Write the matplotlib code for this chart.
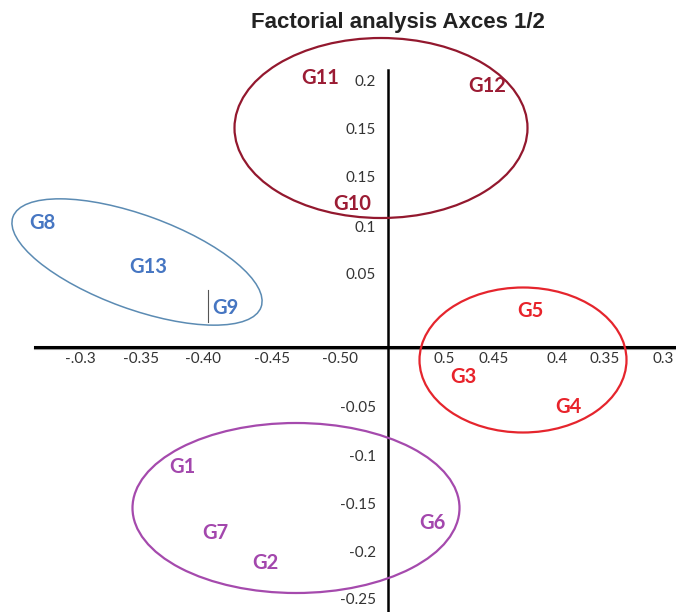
import matplotlib
matplotlib.use("Agg")
import matplotlib.pyplot as plt
from matplotlib.patches import Ellipse

# the chart has no true scale, so everything lives in a plane whose origin is
# the crossing of the two axes (1 unit ~ 1 px of the original picture)
x_tick_pos = [-308, -247, -185, -116, -48, 56, 106, 169, 217, 275]
x_tick_labels = ["-.0.3", "-0.35", "-0.40", "-0.45", "-0.50",
                 "0.5", "0.45", "0.4", "0.35", "0.3"]
y_tick_pos = [265, 217, 169, 119, 72, -61, -110, -158, -206, -253]
y_tick_labels = ["0.2", "0.15", "0.15", "0.1", "0.05",
                 "-0.05", "-0.1", "-0.15", "-0.2", "-0.25"]

groups = ["G1", "G2", "G3", "G4", "G5", "G6", "G7",
          "G8", "G9", "G10", "G11", "G12", "G13"]
group_x = [-206, -123, 75, 180, 142, 44, -173, -346, -163, -36, -68, 99, -240]
group_y = [-120, -216, -30, -60, 36, -176, -186, 124, 39, 143, 269, 261, 80]
cluster = ["purple", "purple", "red", "red", "red", "purple", "purple",
           "blue", "blue", "maroon", "maroon", "maroon", "blue"]

# cluster outlines: centre x, centre y, width, height, angle
clusters = ["maroon", "blue", "red", "purple"]
ell_cx = [-7, -251, 135, -92]
ell_cy = [219, 85, -13, -161]
ell_w = [293, 264, 207, 327]
ell_h = [180, 94, 145, 170]
ell_ang = [0, -20, 0, 0]

label_colors = {"purple": "#a347ad", "red": "#e8232b",
                "blue": "#4676c2", "maroon": "#9b1c34"}
ring_colors = {"purple": "#a54aad", "red": "#e5252d",
               "blue": "#5b8bb3", "maroon": "#93182e"}
ring_widths = {"purple": 1.6, "red": 1.6, "blue": 1.1, "maroon": 1.6}

fig = plt.figure(figsize=(6.76, 6.12), dpi=100)
ax = fig.add_axes([0, 0, 1, 1])
ax.set_xlim(-388, 288)
ax.set_ylim(-265, 347)
ax.axis("off")

# axes lines (horizontal one has a grey shadow like the original)
ax.plot([-353, 288], [-1.5, -1.5], color="#9a9a9a", lw=1.5, zorder=1)
ax.plot([-353, 288], [0, 0], color="black", lw=2.2, zorder=2)
ax.plot([0, 0], [277, -265], color="black", lw=1.8, zorder=2)

for xp, lab in zip(x_tick_pos, x_tick_labels):
    ax.text(xp, -12, lab, ha="center", va="center", fontsize=11,
            family="Lato", color="#333333")
for yp, lab in zip(y_tick_pos, y_tick_labels):
    ax.text(-12, yp, lab, ha="right", va="center", fontsize=11,
            family="Lato", color="#333333")

for c, cx, cy, w, h, a in zip(clusters, ell_cx, ell_cy, ell_w, ell_h, ell_ang):
    ax.add_patch(Ellipse((cx, cy), w, h, angle=a, fill=False,
                         edgecolor=ring_colors[c], lw=ring_widths[c], zorder=3))

for g, gx, gy, c in zip(groups, group_x, group_y, cluster):
    ax.text(gx, gy, g, ha="center", va="center", fontsize=14.5,
            family="Lato", fontweight="bold", color=label_colors[c], zorder=4)

# stray text cursor next to G9
ax.plot([-180, -180], [57, 25], color="#555555", lw=0.8)

fig.text(0.589, 0.963, "Factorial analysis Axces 1/2", ha="center", va="center",
         fontsize=16, fontweight="bold", family="Liberation Sans", color="#222222")

fig.savefig("out.png", dpi=100)
